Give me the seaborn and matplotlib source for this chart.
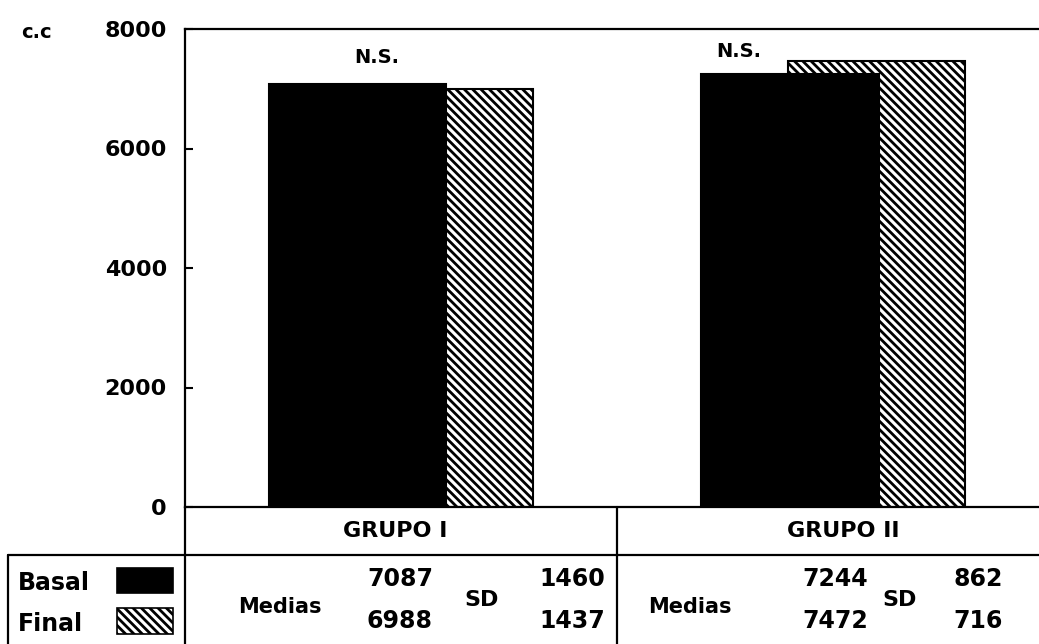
import matplotlib
matplotlib.use("Agg")
import matplotlib.pyplot as plt
import seaborn as sns
import pandas as pd
from matplotlib.patches import Rectangle
from matplotlib.lines import Line2D

# valores (c.c)
grupos = ["GRUPO I", "GRUPO II"]
basal = [7087, 7244]
final = [6988, 7472]
sd_basal = [1460, 862]
sd_final = [1437, 716]
signif = ["N.S.", "N.S."]
yticks = [0, 2000, 4000, 6000, 8000]

df = pd.DataFrame({
    "grupo": grupos * 2,
    "serie": ["Basal"] * len(grupos) + ["Final"] * len(grupos),
    "valor": basal + final,
})

sns.set_style("ticks")
plt.rcParams["font.family"] = ["DejaVu Sans"]
plt.rcParams["font.weight"] = "bold"
plt.rcParams["hatch.linewidth"] = 2.0
for k in ["text.color", "axes.labelcolor", "xtick.color", "ytick.color", "axes.edgecolor"]:
    plt.rcParams[k] = "black"

W, H = 1039, 644
fig = plt.figure(figsize=(W / 100, H / 100), dpi=100)

def fx(x):
    return x / W

def fy(y):
    return 1 - y / H

# area del grafico en pixeles: x 185..1039, y 29..507
ax = fig.add_axes([fx(185), fy(507), fx(1039) - fx(185), fy(29) - fy(507)])

sns.barplot(data=df, x="grupo", y="valor", hue="serie",
            palette={"Basal": "black", "Final": "white"},
            width=0.82, dodge=True, saturation=1, edgecolor="black",
            linewidth=1.5, legend=False, ax=ax)

# barras solapadas: la final queda detras de la basal
for p in ax.patches:
    fc = p.get_facecolor()
    if fc[0] > 0.5:
        p.set_hatch("\\\\\\\\")
        p.set_x(p.get_x() - 0.105)
        p.set_zorder(1)
    else:
        p.set_x(p.get_x() + 0.105)
        p.set_zorder(2)

ax.set_ylim(0, 8000)
ax.set_xlim(-0.5, 1.476)
ax.set_yticks(yticks)
ax.set_yticklabels([str(t) for t in yticks])
ax.set_xticks([])
ax.set_xlabel("")
ax.set_ylabel("")
ax.tick_params(axis="y", direction="in", length=6, width=1.5, pad=13, labelsize=16)
for s in ["left", "top", "bottom"]:
    ax.spines[s].set_linewidth(1.6)
ax.spines["right"].set_visible(False)

# N.S. sobre las barras
ax.text(-0.056, 7530, signif[0], ha="center", va="center", fontsize=14, fontweight="bold")
ax.text(1 - 0.218, 7630, signif[1], ha="center", va="center", fontsize=14, fontweight="bold")

fig.text(fx(36), fy(32), "c.c", ha="center", va="center", fontsize=14, fontweight="bold")

# lineas de la tabla inferior
lw = 1.6
lines = [
    ((8, 1039), (555, 555)),
    ((8, 8), (555, 644)),
    ((185, 185), (507, 644)),
    ((617, 617), (507, 644)),
]
for xs, ys in lines:
    fig.add_artist(Line2D([fx(xs[0]), fx(xs[1])], [fy(ys[0]), fy(ys[1])],
                          color="black", linewidth=lw))

# cabecera de grupos
fig.text(fx(395), fy(531), grupos[0], ha="center", va="center", fontsize=16, fontweight="bold")
fig.text(fx(843), fy(531), grupos[1], ha="center", va="center", fontsize=16, fontweight="bold")

# leyenda
fig.text(fx(18), fy(583), "Basal", ha="left", va="center", fontsize=17, fontweight="bold")
fig.text(fx(18), fy(624), "Final", ha="left", va="center", fontsize=17, fontweight="bold")
fig.add_artist(Rectangle((fx(117), fy(593)), fx(173) - fx(117), fy(568) - fy(593),
                         facecolor="black", edgecolor="black", linewidth=1.2))
fig.add_artist(Rectangle((fx(117), fy(634)), fx(173) - fx(117), fy(608) - fy(634),
                         facecolor="white", edgecolor="black", linewidth=1.2, hatch="\\\\\\\\"))

# medias y SD (x de Medias, valores, SD y borde derecho de las SD)
cols = [
    (280, 400, 482, 605),
    (690, 835, 900, 1003),
]
for i, (xm, xv, xsd, xs) in enumerate(cols):
    fig.text(fx(xm), fy(607), "Medias", ha="center", va="center", fontsize=15, fontweight="bold")
    fig.text(fx(xv), fy(579), str(basal[i]), ha="center", va="center", fontsize=17, fontweight="bold")
    fig.text(fx(xv), fy(621), str(final[i]), ha="center", va="center", fontsize=17, fontweight="bold")
    fig.text(fx(xsd), fy(600), "SD", ha="center", va="center", fontsize=16, fontweight="bold")
    fig.text(fx(xs), fy(579), str(sd_basal[i]), ha="right", va="center", fontsize=17, fontweight="bold")
    fig.text(fx(xs), fy(621), str(sd_final[i]), ha="right", va="center", fontsize=17, fontweight="bold")

fig.savefig("out.png", dpi=100)
